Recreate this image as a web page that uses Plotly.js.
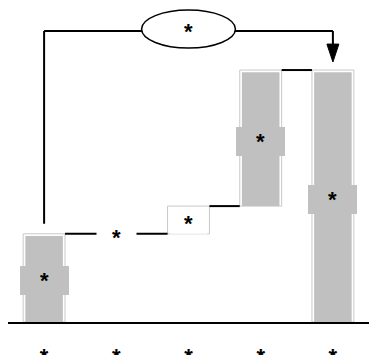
<!DOCTYPE html>
<html>
<head>
<meta charset="utf-8">
<script src="https://cdn.plot.ly/plotly-3.0.1.min.js"></script>
<style>
  html, body { margin: 0; padding: 0; background: #fff; }
  #graf { width: 369px; height: 355px; }
</style>
</head>
<body>
<div id="graf"></div>
<script>
// podatki
let kategorije = ['*', '*', '*', '*', '*'];
let koraki = [35, 0, 11, 54];     // spremembe
let skupaj = 100;                 // zadnji stolpec (vsota)
let oznakeStolpcev = ['*', '*', '*', '*', '*'];
let oznakaPuscice = '*';
let barve = ['#c0c0c0', '#ffffff', '#ffffff', '#c0c0c0', '#c0c0c0'];

let xVals = kategorije.map((k, i) => i);
let baze = [];
let visine = [];
let nivo = 0;
for (let i = 0; i < koraki.length; i++) {
    baze.push(nivo);
    visine.push(koraki[i]);
    nivo += koraki[i];
}
baze.push(0);
visine.push(skupaj);
let vrhovi = visine.map((v, i) => baze[i] + v);

let sirina = 0.58;
let hw = sirina / 2;

// povezave med stolpci
let segX = [], segY = [];
let prej = 0;
for (let i = 1; i < xVals.length; i++) {
    if (visine[i] === 0) continue;
    segX.push(prej + hw, i - hw, null);
    segY.push(vrhovi[prej], vrhovi[prej], null);
    prej = i;
}

let zunanji = {
    type: 'bar', x: xVals, y: visine, base: baze, width: sirina,
    marker: {
        color: '#ffffff',
        line: { color: visine.map(v => v === 0 ? 'rgba(0,0,0,0)' : '#c8c8c8'), width: 1 }
    },
    hoverinfo: 'skip'
};
let notranji = {
    type: 'bar', x: xVals, y: visine.map(v => v > 0 ? v - 0.9 : 0), base: baze, width: sirina - 0.06,
    marker: { color: barve, line: { width: 0 } },
    hoverinfo: 'skip'
};
let povezave = {
    type: 'scatter', mode: 'lines', x: segX, y: segY,
    line: { color: '#000', width: 2 }, hoverinfo: 'skip'
};

let pisava = { family: 'Liberation Sans, Arial, sans-serif', size: 22, weight: 'bold', color: '#000' };

let anotacije = [];
for (let i = 0; i < xVals.length; i++) {
    let siv = barve[i] !== '#ffffff';
    let nic = visine[i] === 0;
    anotacije.push({
        x: xVals[i], y: baze[i] + visine[i] / 2 + (nic ? vrhovi[i] - baze[i] : 0),
        xref: 'x', yref: 'y', text: oznakeStolpcev[i], showarrow: false, font: pisava,
        bgcolor: siv ? '#c0c0c0' : (nic ? '#ffffff' : 'rgba(0,0,0,0)'),
        bordercolor: siv ? '#c0c0c0' : 'rgba(0,0,0,0)',
        width: siv ? 45 : 37, height: siv ? 25 : 20, borderpad: 1, borderwidth: 1, yshift: -3
    });
}
let yLinija = 115.5;
anotacije.push({
    x: 2, y: yLinija, xref: 'x', yref: 'y', text: oznakaPuscice, showarrow: false, font: pisava, yshift: -1
});

let oblike = [
    { type: 'line', xref: 'x', yref: 'y', x0: 0, x1: 0, y0: vrhovi[0] + 4, y1: yLinija, line: { color: '#000', width: 2 } },
    { type: 'line', xref: 'x', yref: 'y', x0: 0, x1: 4, y0: yLinija, y1: yLinija, line: { color: '#000', width: 2 } },
    { type: 'line', xref: 'x', yref: 'y', x0: 4, x1: 4, y0: yLinija, y1: 109, line: { color: '#000', width: 2 } },
    { type: 'path', xref: 'x', yref: 'y', path: 'M 3.917 110.3 L 4.083 110.3 L 4 103.2 Z', fillcolor: '#000', line: { color: '#000', width: 1 } },
    { type: 'circle', xref: 'x', yref: 'y', x0: 1.35, x1: 2.65, y0: 108.7, y1: 123.8, fillcolor: '#fff', line: { color: '#000', width: 1.5 } }
];

let layout = {
    width: 369, height: 355,
    margin: { l: 8, r: 0, t: 0, b: 33 },
    paper_bgcolor: '#fff', plot_bgcolor: '#fff',
    barmode: 'overlay', showlegend: false,
    xaxis: {
        range: [-0.5, 4.5], tickvals: xVals, ticktext: kategorije,
        showgrid: false, zeroline: false, showline: true, linecolor: '#000', linewidth: 2,
        ticks: '', ticklabelstandoff: 14, tickfont: pisava, fixedrange: true
    },
    yaxis: {
        range: [0, 127.8], visible: false, showgrid: false, zeroline: false, fixedrange: true
    },
    shapes: oblike,
    annotations: anotacije
};

Plotly.newPlot('graf', [zunanji, notranji, povezave], layout, { displayModeBar: false, staticPlot: true });
</script>
</body>
</html>
